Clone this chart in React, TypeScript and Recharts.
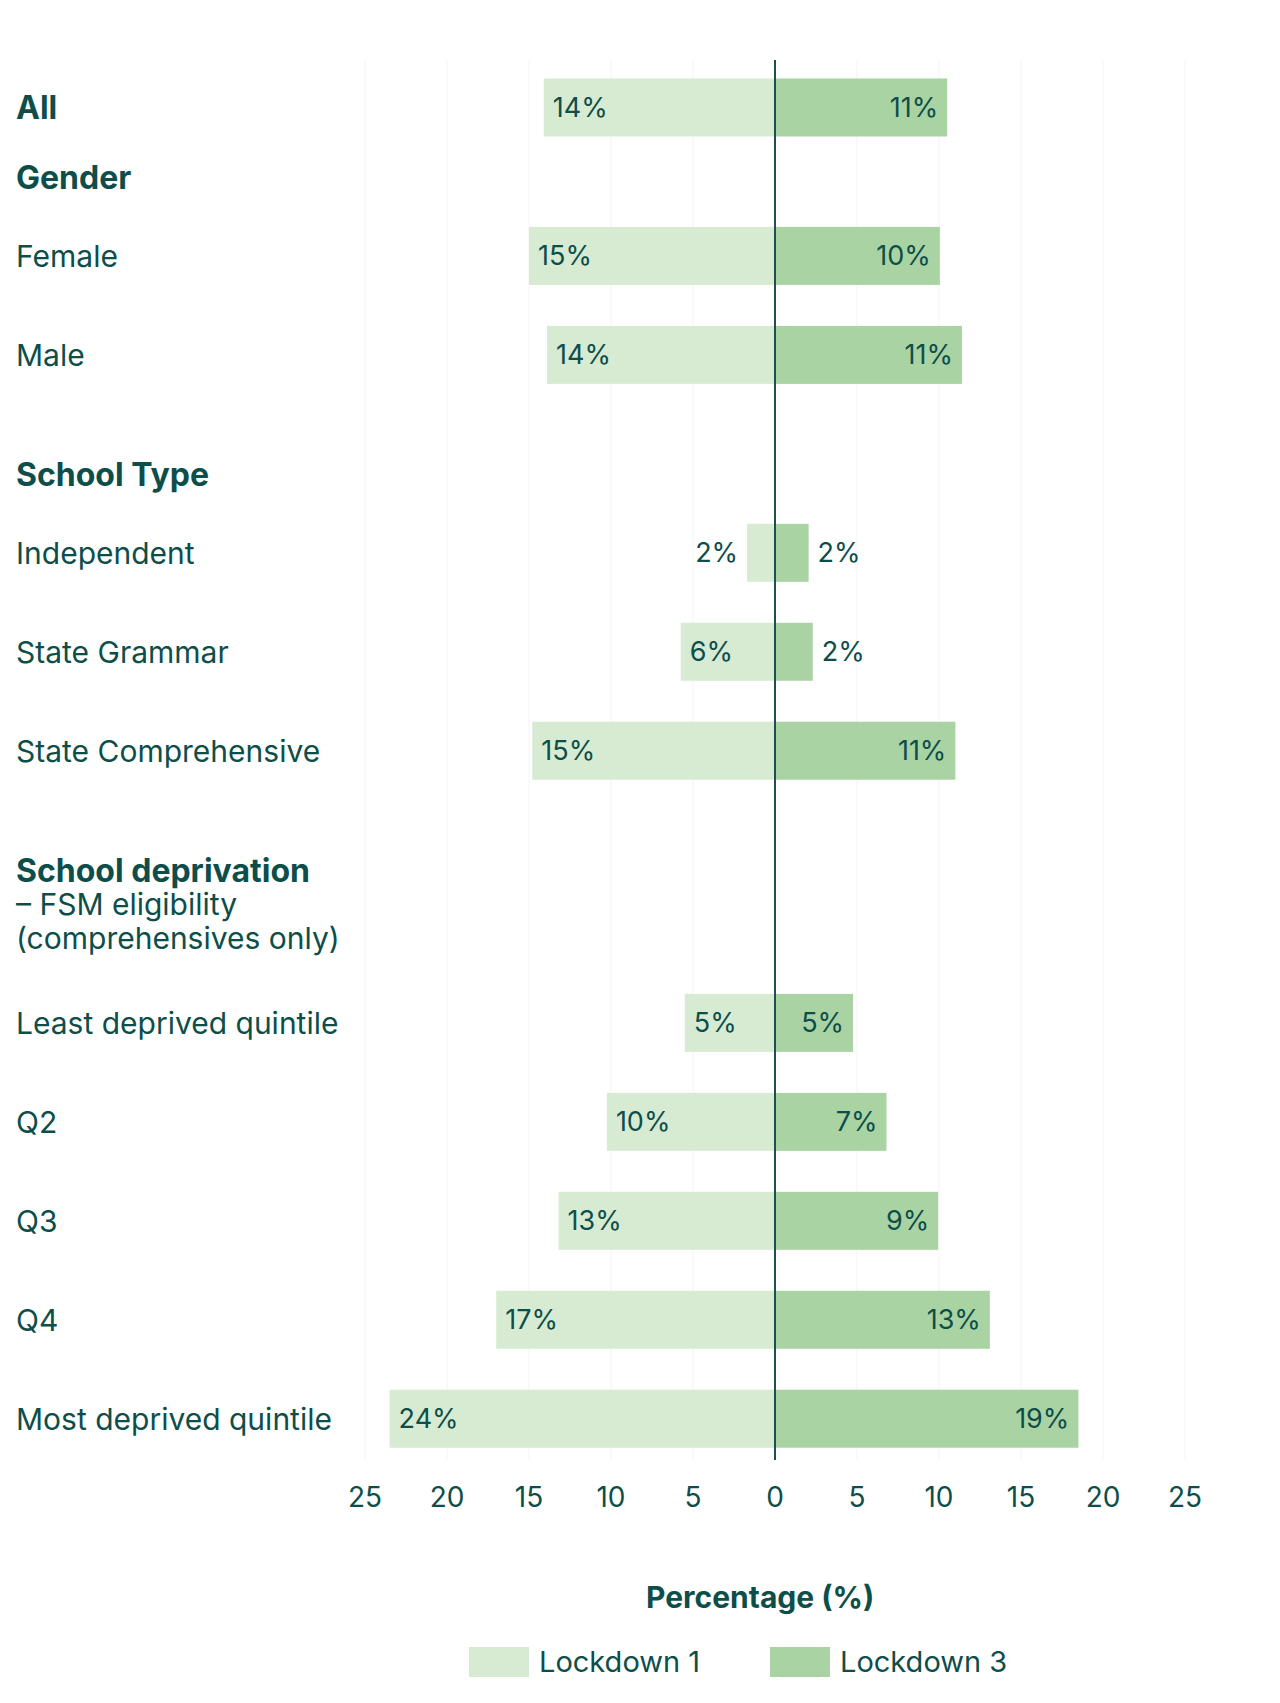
import React from 'react';
import { BarChart, Bar, XAxis, YAxis, CartesianGrid, ReferenceLine, Legend } from 'recharts';

// values (percent)
const categories = [
  'All',
  'Female',
  'Male',
  'Independent',
  'State Grammar',
  'State Comprehensive',
  'Least deprived quintile',
  'Q2',
  'Q3',
  'Q4',
  'Most deprived quintile',
];
const lockdown1 = [14.1, 15.0, 13.9, 1.7, 5.75, 14.8, 5.5, 10.25, 13.2, 17.0, 23.5];
const lockdown3 = [10.5, 10.05, 11.4, 2.05, 2.3, 11.0, 4.76, 6.8, 9.95, 13.1, 18.5];
const lockdown1Labels = ['14%', '15%', '14%', '2%', '6%', '15%', '5%', '10%', '13%', '17%', '24%'];
const lockdown3Labels = ['11%', '10%', '11%', '2%', '2%', '11%', '5%', '7%', '9%', '13%', '19%'];
const boldCategories = ['All'];
const headings = [
  { text: 'Gender', sub: [] as string[] },
  { text: 'School Type', sub: [] as string[] },
  { text: 'School deprivation', sub: ['– FSM eligibility', '(comprehensives only)'] },
];
const xTicks = [-25, -20, -15, -10, -5, 0, 5, 10, 15, 20, 25];

// layout: which row slot each category / heading sits in
const TOTAL_SLOTS = 54;
const categorySlots = [0, 6, 10, 18, 22, 26, 37, 41, 45, 49, 53];
const headingSlots = [3, 15, 31];

const TEXT = '#0d4e4a';
const LIGHT = '#d7ebd3';
const DARK = '#a9d3a3';
const FONT = 'Inter, "Noto Sans", sans-serif';
const BAR_H = 58;

type Row = {
  key: string;
  label?: string;
  bold?: boolean;
  sub?: string[];
  l1?: number | null;
  l3?: number | null;
  l1Label?: string;
  l3Label?: string;
};

const rows: Row[] = Array.from({ length: TOTAL_SLOTS }, (_, i) => ({ key: 's' + i, l1: null, l3: null }));
categories.forEach((c, i) => {
  const r = rows[categorySlots[i]];
  r.label = c;
  r.bold = boldCategories.includes(c);
  r.l1 = -lockdown1[i];
  r.l3 = lockdown3[i];
  r.l1Label = lockdown1Labels[i];
  r.l3Label = lockdown3Labels[i];
});
headings.forEach((h, i) => {
  const r = rows[headingSlots[i]];
  r.label = h.text;
  r.bold = true;
  r.sub = h.sub;
});
const rowByKey: Record<string, Row> = {};
rows.forEach((r) => (rowByKey[r.key] = r));

const CategoryTick = (props: any) => {
  const { y, payload } = props;
  const row = rowByKey[payload.value];
  if (!row || !row.label) return null;
  const isHeading = row.l3 == null;
  return (
    <g>
      <text
        x={16}
        y={y + (isHeading ? -4 : 0)}
        dominantBaseline="central"
        fontSize={row.bold ? 32 : 30}
        fontWeight={row.bold ? 700 : 400}
        fill={TEXT}
        fontFamily={FONT}
      >
        {row.label}
      </text>
      {(row.sub || []).map((s, i) => (
        <text
          key={s}
          x={16}
          y={y - 4 + 34 * (i + 1)}
          dominantBaseline="central"
          fontSize={30}
          fill={TEXT}
          fontFamily={FONT}
        >
          {s}
        </text>
      ))}
    </g>
  );
};

const makeShape = (side: 'left' | 'right') => (props: any) => {
  const { x, y, width, height, fill, payload } = props;
  const label = side === 'left' ? payload?.l1Label : payload?.l3Label;
  if (!label || width == null || isNaN(width)) return <g />;
  const left = Math.min(x, x + width);
  const w = Math.abs(width);
  const cy = y + height / 2;
  const inside = w > 60;
  let tx: number;
  let anchor: 'start' | 'end';
  if (side === 'left') {
    tx = inside ? left + 9 : left - 9;
    anchor = inside ? 'start' : 'end';
  } else {
    tx = inside ? left + w - 9 : left + w + 9;
    anchor = inside ? 'end' : 'start';
  }
  return (
    <g>
      <rect x={left} y={cy - BAR_H / 2} width={w} height={BAR_H} fill={fill} />
      <text
        x={tx}
        y={cy}
        textAnchor={anchor}
        dominantBaseline="central"
        fontSize={27}
        fill={TEXT}
        fontFamily={FONT}
      >
        {label}
      </text>
    </g>
  );
};

const LegendContent = (props: any) => {
  const items = props.payload || [];
  return (
    <div style={{ position: 'relative', width: 1280, height: 110, fontFamily: FONT, color: TEXT }}>
      <div style={{ position: 'absolute', left: 646, top: 4, fontSize: 30, fontWeight: 700 }}>Percentage (%)</div>
      <div style={{ position: 'absolute', left: 469, top: 69, display: 'flex', alignItems: 'center' }}>
        {items.map((it: any, i: number) => (
          <div key={it.value} style={{ display: 'flex', alignItems: 'center' }}>
            <div style={{ width: 60, height: 30, background: it.color }} />
            <span style={{ fontSize: 29, marginLeft: 10, width: i === 0 ? 231 : 'auto' }}>{it.value}</span>
          </div>
        ))}
      </div>
    </div>
  );
};

export default function App() {
  return (
    <div style={{ position: 'absolute', left: 0, top: 0, width: 1280, height: 1703, background: '#fff', fontFamily: FONT }}>
      <BarChart
        width={1280}
        height={1703}
        data={rows}
        layout="vertical"
        stackOffset="sign"
        margin={{ top: 60, right: 95, left: 0, bottom: 73 }}
      >
        <CartesianGrid horizontal={false} stroke="#f3f3f3" strokeWidth={1} />
        <XAxis
          type="number"
          domain={[-25, 25]}
          ticks={xTicks}
          tickFormatter={(v: number) => String(Math.abs(v))}
          axisLine={false}
          tickLine={false}
          tickSize={0}
          tickMargin={27}
          height={60}
          tick={{ fontSize: 28, fill: TEXT, fontFamily: FONT }}
        />
        <YAxis
          type="category"
          dataKey="key"
          width={365}
          interval={0}
          axisLine={false}
          tickLine={false}
          padding={{ top: 35, bottom: 29 }}
          tick={<CategoryTick />}
        />
        <Bar
          dataKey="l1"
          name="Lockdown 1"
          stackId="a"
          fill={LIGHT}
          isAnimationActive={false}
          shape={makeShape('left')}
        />
        <Bar
          dataKey="l3"
          name="Lockdown 3"
          stackId="a"
          fill={DARK}
          isAnimationActive={false}
          shape={makeShape('right')}
        />
        <ReferenceLine x={0} stroke="#1f4f52" strokeWidth={2} />
        <Legend
          content={<LegendContent />}
          wrapperStyle={{ position: 'absolute', left: 0, top: 1575, width: 1280, height: 110 }}
        />
      </BarChart>
    </div>
  );
}
